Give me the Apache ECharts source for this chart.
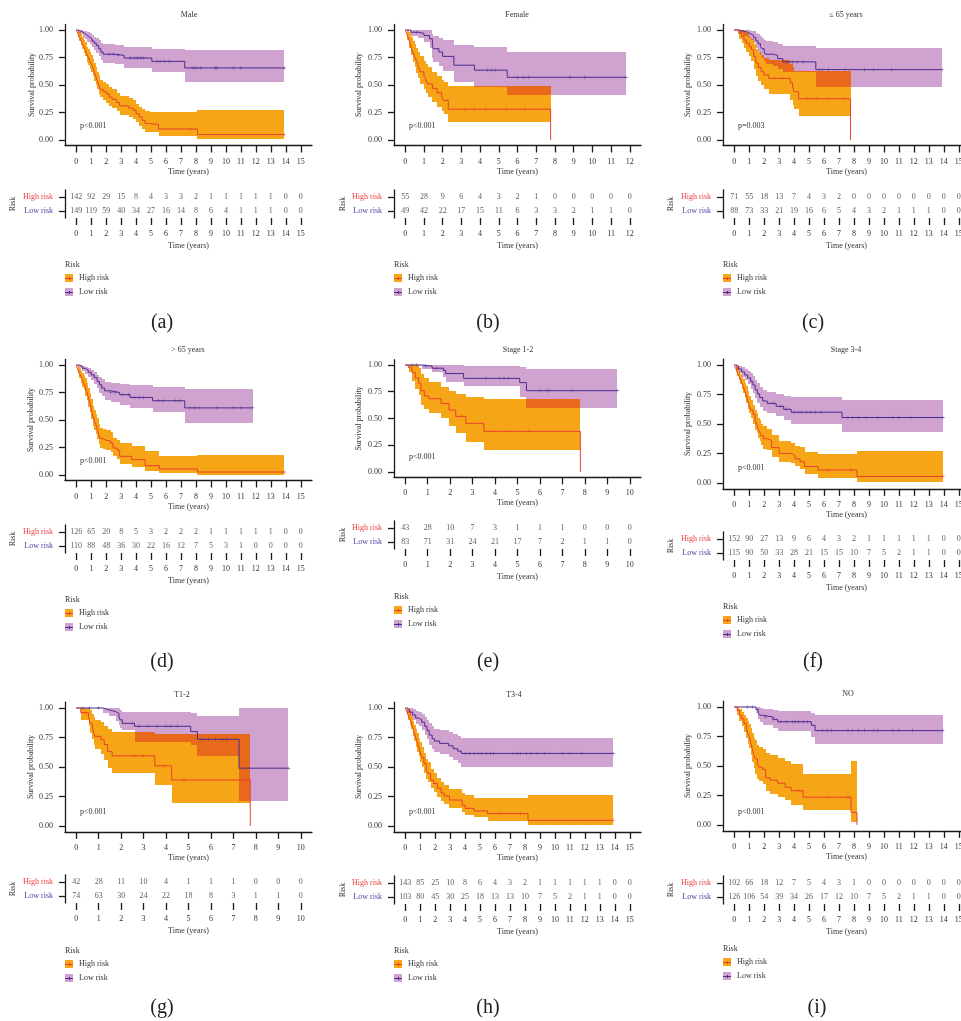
<!DOCTYPE html>
<html><head><meta charset="utf-8">
<script src="https://cdn.jsdelivr.net/npm/echarts@6.0.0/dist/echarts.min.js"></script>
<style>html,body{margin:0;padding:0;background:#fff}#c{width:961px;height:1021px}</style>
</head><body><div id="c"></div>
<script>
// ================= DATA =================
// tick labels
const ticks15 = [0,1,2,3,4,5,6,7,8,9,10,11,12,13,14,15];
const ticks12 = [0,1,2,3,4,5,6,7,8,9,10,11,12];
const ticks10 = [0,1,2,3,4,5,6,7,8,9,10];
const survTicks = [0, 0.25, 0.5, 0.75, 1];
const riskCats = ['Low risk', 'High risk'];
// KM steps: [time, survival, lower CI, upper CI]

// (a) Male
const aHigh = [[0,1,1,1],[0.1,0.97,0.94,1],[0.2,0.94,0.90,0.98],[0.3,0.91,0.86,0.96],[0.4,0.88,0.83,0.94],[0.5,0.85,0.79,0.91],[0.6,0.82,0.76,0.89],[0.7,0.78,0.71,0.85],[0.8,0.75,0.68,0.83],[0.9,0.72,0.65,0.80],[1.0,0.69,0.62,0.77],[1.1,0.66,0.58,0.74],[1.2,0.62,0.54,0.70],[1.3,0.58,0.50,0.66],[1.4,0.54,0.46,0.62],[1.5,0.50,0.42,0.59],[1.6,0.46,0.39,0.55],[1.8,0.44,0.36,0.53],[2.0,0.42,0.34,0.51],[2.2,0.39,0.31,0.48],[2.4,0.37,0.29,0.46],[2.7,0.34,0.26,0.43],[2.9,0.31,0.23,0.40],[3.5,0.29,0.21,0.38],[3.8,0.27,0.19,0.36],[4.0,0.24,0.16,0.33],[4.2,0.21,0.13,0.30],[4.4,0.18,0.10,0.28],[4.6,0.15,0.075,0.26],[4.9,0.14,0.07,0.255],[5.5,0.10,0.035,0.255],[8.1,0.05,0.005,0.275]];
const aHighEnd = 13.9;
const aHighCens = [7.6, 13.9];
const aLow = [[0,1,1,1],[0.15,0.99,0.975,1],[0.3,0.98,0.96,1],[0.45,0.965,0.935,0.995],[0.6,0.95,0.915,0.99],[0.75,0.935,0.895,0.98],[0.9,0.92,0.87,0.97],[1.05,0.90,0.845,0.955],[1.2,0.88,0.82,0.94],[1.35,0.86,0.79,0.925],[1.5,0.83,0.76,0.905],[1.65,0.80,0.73,0.885],[1.8,0.78,0.70,0.87],[2.6,0.77,0.69,0.865],[3.2,0.745,0.655,0.845],[5.05,0.715,0.62,0.83],[7.25,0.655,0.525,0.815]];
const aLowEnd = 13.9;
const aLowCens = [2.2,2.5,2.8,3.6,3.9,4.1,4.3,4.5,5.4,5.6,5.9,6.2,7.8,8.0,8.3,9.3,9.4,10.5,11.0,13.9];
const aRiskHigh = [142,92,29,15,8,4,3,3,2,1,1,1,1,1,0,0];
const aRiskLow = [149,119,59,40,34,27,16,14,8,6,4,1,1,1,0,0];

// (b) Female
const bHigh = [[0,1,1,1],[0.1,0.96,0.91,1],[0.2,0.91,0.84,0.98],[0.3,0.85,0.77,0.94],[0.4,0.80,0.71,0.90],[0.5,0.76,0.66,0.87],[0.6,0.72,0.61,0.84],[0.7,0.67,0.56,0.80],[0.8,0.62,0.51,0.76],[1.0,0.58,0.46,0.72],[1.1,0.55,0.43,0.69],[1.2,0.51,0.39,0.66],[1.45,0.47,0.35,0.62],[1.7,0.43,0.30,0.58],[1.95,0.39,0.26,0.55],[2.05,0.36,0.235,0.53],[2.3,0.28,0.16,0.49],[7.77,0,null,null]];
const bHighEnd = 7.77;
const bHighCens = [3.2,3.7,4.3,5.4,6.4];
const bLow = [[0,1,1,1],[0.3,0.98,0.95,1],[0.7,0.97,0.93,1],[1.0,0.95,0.89,1],[1.3,0.92,0.84,1],[1.45,0.86,0.75,0.96],[1.5,0.83,0.71,0.95],[1.8,0.80,0.67,0.93],[2.0,0.76,0.63,0.91],[2.6,0.68,0.53,0.86],[3.7,0.635,0.48,0.85],[5.45,0.57,0.405,0.80]];
const bLowEnd = 11.8;
const bLowCens = [0.6,4.4,4.6,4.8,6.0,6.3,6.6,8.8,9.6,11.8];
const bRiskHigh = [55,28,9,6,4,3,2,1,0,0,0,0,0];
const bRiskLow = [49,42,22,17,15,11,6,3,3,2,1,1,0];

// (c) <= 65 years
const cHigh = [[0,1,1,1],[0.3,0.97,0.92,1],[0.5,0.94,0.88,1],[0.65,0.91,0.84,0.99],[0.8,0.88,0.80,0.97],[1.0,0.85,0.76,0.94],[1.15,0.82,0.72,0.92],[1.3,0.76,0.65,0.87],[1.45,0.70,0.58,0.83],[1.6,0.66,0.54,0.80],[1.8,0.62,0.50,0.77],[2.0,0.59,0.46,0.75],[2.3,0.56,0.42,0.73],[3.75,0.52,0.36,0.69],[3.9,0.48,0.32,0.66],[4.0,0.44,0.285,0.63],[4.3,0.375,0.215,0.63],[7.77,0,null,null]];
const cHighEnd = 7.77;
const cHighCens = [2.7,3.2,4.9,5.5,6.3,7.3];
const cLow = [[0,1,1,1],[0.3,0.99,0.97,1],[0.6,0.98,0.95,1],[0.9,0.965,0.93,1],[1.1,0.95,0.905,0.995],[1.3,0.93,0.88,0.99],[1.45,0.90,0.84,0.975],[1.6,0.875,0.80,0.96],[1.75,0.85,0.77,0.945],[1.85,0.83,0.745,0.93],[2.0,0.80,0.715,0.91],[2.1,0.78,0.69,0.90],[2.6,0.77,0.675,0.89],[2.9,0.74,0.645,0.875],[3.25,0.71,0.615,0.855],[5.45,0.64,0.48,0.84]];
const cLowEnd = 13.9;
const cLowCens = [3.5,3.9,4.2,4.6,5.7,5.9,6.3,7.4,8.7,9.3,10.5,13.9];
const cRiskHigh = [71,55,18,13,7,4,3,2,0,0,0,0,0,0,0,0];
const cRiskLow = [88,73,33,21,19,16,6,5,4,3,2,1,1,1,0,0];

// (d) > 65 years
const dHigh = [[0,1,1,1],[0.1,0.96,0.93,1],[0.2,0.93,0.88,0.97],[0.3,0.90,0.84,0.95],[0.4,0.87,0.80,0.93],[0.5,0.84,0.77,0.91],[0.6,0.80,0.72,0.88],[0.7,0.76,0.68,0.84],[0.8,0.71,0.62,0.79],[0.9,0.66,0.57,0.75],[1.0,0.60,0.51,0.69],[1.1,0.54,0.45,0.63],[1.2,0.50,0.41,0.59],[1.3,0.46,0.37,0.555],[1.4,0.42,0.33,0.515],[1.5,0.37,0.285,0.46],[1.6,0.33,0.25,0.43],[1.8,0.315,0.235,0.415],[2.0,0.31,0.23,0.41],[2.3,0.29,0.21,0.39],[2.45,0.245,0.17,0.335],[2.75,0.225,0.15,0.315],[2.9,0.17,0.10,0.29],[3.7,0.14,0.075,0.26],[4.6,0.085,0.035,0.215],[5.55,0.055,0.015,0.175],[8.1,0.027,0.002,0.185]];
const dHighEnd = 13.9;
const dHighCens = [13.9];
const dLow = [[0,1,1,1],[0.2,0.99,0.97,1],[0.4,0.97,0.945,0.995],[0.6,0.955,0.92,0.985],[0.8,0.935,0.895,0.97],[1.0,0.91,0.86,0.955],[1.2,0.885,0.83,0.94],[1.4,0.85,0.79,0.91],[1.55,0.82,0.75,0.89],[1.7,0.79,0.72,0.87],[1.9,0.765,0.685,0.85],[2.3,0.75,0.665,0.84],[2.9,0.73,0.64,0.825],[3.6,0.705,0.61,0.815],[5.1,0.675,0.575,0.80],[7.25,0.61,0.47,0.78]];
const dLowEnd = 11.8;
const dLowCens = [2.3,2.6,3.1,3.5,3.9,4.2,4.5,5.5,5.8,6.6,6.9,7.6,7.9,8.2,9.4,10.5,11.0,11.8];
const dRiskHigh = [126,65,20,8,5,3,2,2,2,1,1,1,1,1,0,0];
const dRiskLow = [110,88,48,36,30,22,16,12,7,5,3,1,0,0,0,0];

// (e) Stage 1-2
const eHigh = [[0,1,1,1],[0.15,0.975,0.93,1],[0.3,0.93,0.85,1],[0.45,0.88,0.78,1],[0.6,0.83,0.72,0.97],[0.7,0.76,0.63,0.92],[0.85,0.71,0.585,0.88],[1.05,0.685,0.555,0.84],[1.6,0.64,0.50,0.79],[1.95,0.58,0.43,0.76],[2.25,0.52,0.36,0.73],[2.7,0.455,0.285,0.70],[3.5,0.38,0.205,0.68],[7.8,0,null,null]];
const eHighEnd = 7.8;
const eHighCens = [2.5,3.8,4.5,5.5];
const eLow = [[0,1,1,1],[0.75,0.99,0.965,1],[1.2,0.97,0.93,1],[1.7,0.95,0.89,1],[1.8,0.92,0.845,1],[2.6,0.875,0.80,0.99],[5.1,0.835,0.705,0.985],[5.4,0.76,0.595,0.96]];
const eLowEnd = 9.45;
const eLowCens = [0.3,0.5,0.9,1.4,3.6,4.2,4.4,4.6,6.0,6.3,6.4,7.4,9.45];
const eRiskHigh = [43,28,10,7,3,1,1,1,0,0,0];
const eRiskLow = [83,71,31,24,21,17,7,2,1,1,0];

// (f) Stage 3-4
const fHigh = [[0,1,1,1],[0.1,0.97,0.94,1],[0.2,0.94,0.91,0.98],[0.3,0.91,0.87,0.95],[0.4,0.88,0.84,0.92],[0.5,0.85,0.80,0.90],[0.6,0.82,0.76,0.88],[0.7,0.78,0.72,0.85],[0.8,0.745,0.68,0.82],[0.9,0.70,0.63,0.78],[1.0,0.66,0.59,0.74],[1.1,0.62,0.55,0.70],[1.25,0.58,0.50,0.665],[1.4,0.53,0.45,0.62],[1.5,0.50,0.42,0.59],[1.6,0.46,0.38,0.555],[1.7,0.435,0.355,0.53],[1.8,0.40,0.32,0.50],[1.95,0.375,0.29,0.48],[2.2,0.36,0.28,0.46],[2.5,0.30,0.22,0.405],[3.0,0.25,0.18,0.355],[3.8,0.235,0.17,0.34],[4.05,0.205,0.14,0.315],[4.4,0.18,0.12,0.305],[4.7,0.14,0.075,0.26],[5.6,0.11,0.045,0.245],[8.2,0.055,0.01,0.27]];
const fHighEnd = 13.95;
const fHighCens = [6.3,7.8,13.95];
const fLow = [[0,1,1,1],[0.15,0.985,0.96,1],[0.3,0.965,0.93,0.995],[0.5,0.94,0.90,0.985],[0.7,0.915,0.87,0.97],[0.9,0.89,0.84,0.95],[1.1,0.86,0.80,0.93],[1.25,0.83,0.765,0.91],[1.4,0.79,0.72,0.875],[1.55,0.755,0.68,0.845],[1.7,0.725,0.645,0.815],[1.9,0.695,0.61,0.79],[2.2,0.675,0.59,0.775],[2.8,0.65,0.565,0.755],[3.3,0.625,0.535,0.74],[3.8,0.60,0.50,0.725],[7.2,0.555,0.435,0.705]];
const fLowEnd = 13.95;
const fLowCens = [2.6,3.1,3.5,4.0,4.3,4.5,4.8,5.1,5.4,5.8,7.6,7.9,8.3,8.8,9.6,10.6,11.0,11.8,13.95];
const fRiskHigh = [152,90,27,13,9,6,4,3,2,1,1,1,1,1,0,0];
const fRiskLow = [115,90,50,33,28,21,15,15,10,7,5,2,1,1,0,0];

// (g) T1-2
const gHigh = [[0,1,1,1],[0.2,0.96,0.90,1],[0.55,0.92,0.85,1],[0.62,0.87,0.79,0.98],[0.72,0.83,0.74,0.95],[0.78,0.79,0.69,0.92],[0.82,0.76,0.65,0.90],[1.1,0.73,0.61,0.88],[1.25,0.69,0.56,0.85],[1.4,0.63,0.49,0.82],[1.6,0.595,0.445,0.80],[3.5,0.51,0.345,0.78],[4.25,0.39,0.195,0.78],[7.75,0,null,null]];
const gHighEnd = 7.75;
const gHighCens = [0.4,2.6,3.0,3.9,4.8];
const gLow = [[0,1,1,1],[1.2,0.985,0.955,1],[1.45,0.97,0.93,1],[1.75,0.955,0.89,1],[1.9,0.93,0.855,1],[1.95,0.90,0.83,0.985],[2.05,0.87,0.81,0.97],[2.6,0.845,0.715,0.965],[5.1,0.80,0.69,0.955],[5.4,0.735,0.59,0.935],[7.25,0.49,0.215,1.0]];
const gLowEnd = 9.45;
const gLowCens = [0.3,0.6,1.0,2.5,2.8,3.2,3.6,4.0,4.2,4.5,5.6,5.9,6.2,6.5,6.7,9.45];
const gRiskHigh = [42,28,11,10,4,1,1,1,0,0,0];
const gRiskLow = [74,63,30,24,22,18,8,3,1,1,0];

// (h) T3-4
const hHigh = [[0,1,1,1],[0.1,0.97,0.94,1],[0.2,0.94,0.90,0.98],[0.3,0.91,0.86,0.96],[0.4,0.88,0.82,0.93],[0.5,0.83,0.76,0.89],[0.6,0.79,0.72,0.86],[0.7,0.75,0.67,0.82],[0.8,0.71,0.63,0.79],[0.9,0.67,0.59,0.75],[1.0,0.62,0.54,0.71],[1.1,0.58,0.50,0.67],[1.25,0.53,0.45,0.62],[1.4,0.48,0.40,0.57],[1.5,0.445,0.37,0.54],[1.7,0.39,0.32,0.48],[1.9,0.36,0.29,0.45],[2.15,0.32,0.25,0.41],[2.4,0.28,0.215,0.37],[2.6,0.255,0.19,0.35],[2.95,0.22,0.155,0.31],[3.8,0.175,0.12,0.28],[4.0,0.15,0.095,0.26],[4.6,0.128,0.075,0.24],[5.5,0.105,0.043,0.235],[8.2,0.048,0.005,0.26]];
const hHighEnd = 13.9;
const hHighCens = [6.3,7.7,13.9];
const hLow = [[0,1,1,1],[0.15,0.985,0.96,1],[0.3,0.965,0.93,1],[0.5,0.94,0.895,0.99],[0.7,0.915,0.865,0.975],[0.9,0.90,0.845,0.965],[1.1,0.88,0.815,0.95],[1.3,0.845,0.775,0.925],[1.45,0.81,0.735,0.90],[1.6,0.77,0.69,0.87],[1.8,0.74,0.655,0.845],[1.95,0.72,0.63,0.825],[2.3,0.70,0.61,0.81],[2.9,0.68,0.585,0.80],[3.2,0.655,0.56,0.78],[3.5,0.635,0.535,0.765],[3.75,0.615,0.50,0.745]];
const hLowEnd = 13.9;
const hLowCens = [4.0,4.3,4.6,4.9,5.1,5.4,5.7,5.9,7.2,7.5,7.7,8.1,8.4,8.8,9.3,10.5,11.0,11.8,13.9];
const hRiskHigh = [143,85,25,10,8,6,4,3,2,1,1,1,1,1,0,0];
const hRiskLow = [103,80,45,30,25,18,13,13,10,7,5,2,1,1,0,0];

// (i) NO
const iHigh = [[0,1,1,1],[0.2,0.97,0.93,1],[0.35,0.93,0.88,0.98],[0.5,0.90,0.84,0.96],[0.65,0.86,0.79,0.935],[0.8,0.82,0.74,0.91],[0.9,0.78,0.69,0.88],[1.0,0.75,0.65,0.86],[1.1,0.70,0.59,0.82],[1.2,0.65,0.535,0.78],[1.3,0.60,0.48,0.74],[1.4,0.56,0.43,0.72],[1.55,0.52,0.39,0.68],[1.65,0.49,0.37,0.66],[1.9,0.47,0.35,0.645],[2.1,0.40,0.285,0.61],[2.4,0.38,0.265,0.59],[2.9,0.355,0.24,0.565],[3.4,0.32,0.215,0.54],[3.8,0.29,0.17,0.515],[4.6,0.236,0.125,0.43],[7.8,0.107,0.022,0.54],[8.2,0,null,null]];
const iHighEnd = 8.2;
const iHighCens = [4.3,6.3,7.6];
const iLow = [[0,1,1,1],[1.45,0.98,0.945,1],[1.6,0.95,0.90,1],[1.7,0.93,0.87,0.995],[1.9,0.915,0.85,0.985],[2.6,0.895,0.82,0.975],[2.9,0.875,0.795,0.965],[5.15,0.845,0.75,0.95],[5.4,0.80,0.685,0.935]];
const iLowEnd = 13.95;
const iLowCens = [0.9,1.2,2.1,2.6,3.1,3.5,3.9,4.1,4.3,4.6,4.9,5.9,6.2,6.5,7.6,7.9,8.3,8.7,9.3,9.6,10.6,11.0,11.9,13.95];
const iRiskHigh = [102,66,18,12,7,5,4,3,1,0,0,0,0,0,0,0];
const iRiskLow = [126,106,54,39,34,26,17,12,10,7,5,2,1,1,0,0];

// ================= PANELS =================
const panels = [
  {title:'Male', tag:'(a)', p:'p<0.001', ticks:ticks15, high:aHigh, highEnd:aHighEnd, highCens:aHighCens, low:aLow, lowEnd:aLowEnd, lowCens:aLowCens, riskHigh:aRiskHigh, riskLow:aRiskLow},
  {title:'Female', tag:'(b)', p:'p<0.001', ticks:ticks12, high:bHigh, highEnd:bHighEnd, highCens:bHighCens, low:bLow, lowEnd:bLowEnd, lowCens:bLowCens, riskHigh:bRiskHigh, riskLow:bRiskLow},
  {title:'\u2264 65 years', tag:'(c)', p:'p=0.003', ticks:ticks15, high:cHigh, highEnd:cHighEnd, highCens:cHighCens, low:cLow, lowEnd:cLowEnd, lowCens:cLowCens, riskHigh:cRiskHigh, riskLow:cRiskLow},
  {title:'> 65 years', tag:'(d)', p:'p<0.001', ticks:ticks15, high:dHigh, highEnd:dHighEnd, highCens:dHighCens, low:dLow, lowEnd:dLowEnd, lowCens:dLowCens, riskHigh:dRiskHigh, riskLow:dRiskLow},
  {title:'Stage 1-2', tag:'(e)', p:'p<0.001', ticks:ticks10, high:eHigh, highEnd:eHighEnd, highCens:eHighCens, low:eLow, lowEnd:eLowEnd, lowCens:eLowCens, riskHigh:eRiskHigh, riskLow:eRiskLow},
  {title:'Stage 3-4', tag:'(f)', p:'p<0.001', ticks:ticks15, high:fHigh, highEnd:fHighEnd, highCens:fHighCens, low:fLow, lowEnd:fLowEnd, lowCens:fLowCens, riskHigh:fRiskHigh, riskLow:fRiskLow},
  {title:'T1-2', tag:'(g)', p:'p<0.001', ticks:ticks10, high:gHigh, highEnd:gHighEnd, highCens:gHighCens, low:gLow, lowEnd:gLowEnd, lowCens:gLowCens, riskHigh:gRiskHigh, riskLow:gRiskLow},
  {title:'T3-4', tag:'(h)', p:'p<0.001', ticks:ticks15, high:hHigh, highEnd:hHighEnd, highCens:hHighCens, low:hLow, lowEnd:hLowEnd, lowCens:hLowCens, riskHigh:hRiskHigh, riskLow:hRiskLow},
  {title:'NO', tag:'(i)', p:'p<0.001', ticks:ticks15, high:iHigh, highEnd:iHighEnd, highCens:iHighCens, low:iLow, lowEnd:iLowEnd, lowCens:iLowCens, riskHigh:iRiskHigh, riskLow:iRiskLow}
];

// ================= LAYOUT (pixels) =================
const W = 247;
const layouts = [
  {left:65,  y1:30,  y0:140, riskTop:190, legY:265, tagX:162, tagY:323,  titleX:189, titleY:15,  pX:80,  pY:126, ynameX:32,  riskNameX:13},
  {left:394, y1:30,  y0:140, riskTop:190, legY:265, tagX:488, tagY:323,  titleX:517, titleY:15,  pX:409, pY:126, ynameX:359, riskNameX:343},
  {left:723, y1:30,  y0:140, riskTop:190, legY:265, tagX:813, tagY:323,  titleX:846, titleY:15,  pX:738, pY:126, ynameX:688, riskNameX:671},
  {left:65,  y1:365, y0:475, riskTop:525, legY:600, tagX:162, tagY:662,  titleX:188, titleY:350, pX:80,  pY:461, ynameX:31,  riskNameX:13},
  {left:394, y1:365, y0:472, riskTop:521, legY:597, tagX:488, tagY:662,  titleX:518, titleY:350, pX:409, pY:457, ynameX:359, riskNameX:343},
  {left:723, y1:365, y0:483, riskTop:532, legY:607, tagX:813, tagY:662,  titleX:846, titleY:350, pX:738, pY:468, ynameX:688, riskNameX:671},
  {left:65,  y1:708, y0:826, riskTop:875, legY:951, tagX:162, tagY:1008, titleX:182, titleY:695, pX:80,  pY:812, ynameX:31,  riskNameX:13},
  {left:394, y1:708, y0:826, riskTop:876, legY:951, tagX:488, tagY:1008, titleX:514, titleY:695, pX:409, pY:812, ynameX:359, riskNameX:343},
  {left:723, y1:707, y0:825, riskTop:876, legY:949, tagX:817, tagY:1008, titleX:848, titleY:694, pX:738, pY:812, ynameX:688, riskNameX:671}
];

const FONT = '"Liberation Serif", "DejaVu Serif", serif';
const COL = {highBand:'#F6A516', lowBand:'#CFA2CF', overlap:'#E8691B', highLine:'#E8412C', lowLine:'#4B2C8F', text:'#333333', axis:'#1a1a1a'};
const PLUS = 'path://M4.5,0h1v4.5h4.5v1h-4.5v4.5h-1v-4.5h-4.5v-1h4.5z';

// ================= HELPERS =================
function intervals(steps, end) {
  const out = [];
  for (let i = 0; i < steps.length; i++) {
    if (steps[i][2] == null) continue;
    const t0 = steps[i][0];
    const t1 = (i + 1 < steps.length) ? steps[i + 1][0] : end;
    if (t1 > t0) out.push([t0, t1, steps[i][2], steps[i][3]]);
  }
  return out;
}
function bandPolygon(steps, end) {
  const iv = intervals(steps, end);
  const up = [], lo = [];
  iv.forEach(d => { up.push([d[0], d[3]], [d[1], d[3]]); });
  for (let i = iv.length - 1; i >= 0; i--) { const d = iv[i]; lo.push([d[1], d[2]], [d[0], d[2]]); }
  return up.concat(lo);
}
function overlapRects(a, aEnd, b, bEnd) {
  const ia = intervals(a, aEnd), ib = intervals(b, bEnd), res = [];
  ia.forEach(x => ib.forEach(y => {
    const t0 = Math.max(x[0], y[0]), t1 = Math.min(x[1], y[1]);
    const lo = Math.max(x[2], y[2]), hi = Math.min(x[3], y[3]);
    if (t1 > t0 && hi > lo) res.push([t0, t1, lo, hi]);
  }));
  return res;
}
function survAt(steps, t) {
  let s = steps[0][1];
  steps.forEach(d => { if (d[0] <= t) s = d[1]; });
  return s;
}
function linePoints(steps, end) {
  const pts = steps.map(d => [d[0], d[1]]);
  const last = steps[steps.length - 1];
  if (end > last[0]) pts.push([end, last[1]]);
  return pts;
}
const R = Math.round;

// ================= OPTION =================
const grid = [], xAxis = [], yAxis = [], series = [], graphic = [];
const txt = (size) => ({fontSize: size, fontFamily: FONT, color: COL.text});

panels.forEach((P, k) => {
  const L = layouts[k];
  const tmax = P.ticks[P.ticks.length - 1];
  const xmin = -0.05 * tmax, xmax = 1.05 * tmax;
  const unit = L.y0 - L.y1;
  const gKM = 2 * k, gR = 2 * k + 1;

  grid.push({left: L.left, top: L.y1 - 0.05 * unit, width: W, height: 1.1 * unit, containLabel: false, outerBoundsMode: 'none'});
  grid.push({left: L.left, top: L.riskTop, width: W, height: 28, containLabel: false, outerBoundsMode: 'none'});

  const axisLine = {onZero: false, lineStyle: {color: COL.axis, width: 1.3}};
  [gKM, gR].forEach((g, j) => {
    xAxis.push({
      gridIndex: g, type: 'value', min: xmin, max: xmax,
      axisLine: axisLine,
      axisTick: {show: true, customValues: P.ticks, length: 7, lineStyle: {color: COL.axis, width: 1.3}},
      axisLabel: {customValues: P.ticks, margin: 12, ...txt(8)},
      splitLine: {show: false},
      name: 'Time (years)', nameLocation: 'middle', nameGap: j === 0 ? 22 : 24,
      nameTextStyle: txt(8)
    });
  });
  yAxis.push({
    gridIndex: gKM, type: 'value', min: -0.05, max: 1.05,
    axisLine: axisLine,
    axisTick: {show: true, customValues: survTicks, length: 6, lineStyle: {color: COL.axis, width: 1.3}},
    axisLabel: {customValues: survTicks, margin: 12, formatter: v => v.toFixed(2), ...txt(8)},
    splitLine: {show: false}
  });
  yAxis.push({
    gridIndex: gR, type: 'category', data: riskCats,
    axisLine: axisLine,
    axisTick: {show: true, alignWithLabel: true, length: 6, lineStyle: {color: COL.axis, width: 1.3}},
    axisLabel: {margin: 12, fontSize: 8, fontFamily: FONT, color: (v) => v === 'High risk' ? '#EE3B3B' : '#4B3FA0'},
    splitLine: {show: false}
  });

  // bands
  const band = (steps, end, color, z) => {
    const poly = bandPolygon(steps, end);
    return {
      type: 'custom', xAxisIndex: gKM, yAxisIndex: gKM, silent: true, z: z, animation: false,
      data: intervals(steps, end).map(d => [d[0], d[2], d[3]]),
      encode: {x: 0, y: [1, 2]},
      renderItem: (params, api) => {
        if (params.dataIndex !== 0) return null;
        return {type: 'polygon', shape: {points: poly.map(p => { const c = api.coord(p); return [R(c[0]), R(c[1])]; })}, style: {fill: color}};
      }
    };
  };
  series.push(band(P.low, P.lowEnd, COL.lowBand, 1));
  series.push(band(P.high, P.highEnd, COL.highBand, 2));
  series.push({
    type: 'custom', xAxisIndex: gKM, yAxisIndex: gKM, silent: true, z: 3, animation: false,
    data: overlapRects(P.low, P.lowEnd, P.high, P.highEnd),
    encode: {x: [0, 1], y: [2, 3]},
    renderItem: (params, api) => {
      const a = api.coord([api.value(0), api.value(3)]);
      const b = api.coord([api.value(1), api.value(2)]);
      const x0 = R(a[0]), x1 = R(b[0]), y0 = R(a[1]), y1 = R(b[1]);
      return {type: 'rect', shape: {x: x0, y: y0, width: x1 - x0, height: y1 - y0}, style: {fill: COL.overlap}};
    }
  });
  // survival lines
  [[P.low, P.lowEnd, COL.lowLine], [P.high, P.highEnd, COL.highLine]].forEach(([st, end, c]) => {
    series.push({type: 'line', xAxisIndex: gKM, yAxisIndex: gKM, step: 'end', symbol: 'none', silent: true, z: 4,
      animation: false, data: linePoints(st, end), lineStyle: {color: c, width: 1}});
  });
  // censor marks
  [[P.low, P.lowCens, COL.lowLine], [P.high, P.highCens, COL.highLine]].forEach(([st, cens, c]) => {
    series.push({type: 'scatter', xAxisIndex: gKM, yAxisIndex: gKM, symbol: PLUS, symbolSize: 4, silent: true, z: 5,
      animation: false, itemStyle: {color: c}, data: cens.map(t => [t, survAt(st, t)])});
  });
  // risk table numbers
  [['High risk', P.riskHigh], ['Low risk', P.riskLow]].forEach(([cat, vals]) => {
    series.push({type: 'scatter', xAxisIndex: gR, yAxisIndex: gR, symbolSize: 0, silent: true, animation: false,
      itemStyle: {color: 'rgba(0,0,0,0)'},
      label: {show: true, position: 'inside', formatter: p => String(p.value[2]), ...txt(8)},
      data: vals.map((v, i) => [P.ticks[i], cat, v])});
  });

  // texts
  const T = (x, y, text, size, align, extra) => Object.assign({type: 'text', x: x, y: y, silent: true,
    style: {text: text, fontSize: size, fontFamily: FONT, fill: COL.text, align: align, verticalAlign: 'middle'}}, extra || {});
  graphic.push(T(L.titleX, L.titleY, P.title, 8, 'center'));
  graphic.push(T(L.pX, L.pY, P.p, 8, 'left'));
  graphic.push(T(L.ynameX, L.y1 + unit / 2, 'Survival probability', 8, 'center', {rotation: Math.PI / 2}));
  graphic.push(T(L.riskNameX, L.riskTop + 14, 'Risk', 8, 'center', {rotation: Math.PI / 2}));
  graphic.push(T(L.tagX, L.tagY, P.tag, 20, 'center', {style: {text: P.tag, fontSize: 20, fontFamily: FONT, fill: '#222', align: 'center', verticalAlign: 'middle'}}));
  // legend
  graphic.push(T(L.left, L.legY, 'Risk', 8, 'left'));
  [[13, COL.highBand, COL.highLine, 'High risk'], [27, COL.lowBand, COL.lowLine, 'Low risk']].forEach(([dy, fill, line, label]) => {
    const cy = L.legY + dy;
    graphic.push({type: 'rect', silent: true, shape: {x: L.left, y: cy - 4, width: 8, height: 8}, style: {fill: fill}});
    graphic.push({type: 'line', silent: true, shape: {x1: L.left, y1: cy + 0.5, x2: L.left + 8, y2: cy + 0.5}, style: {stroke: line, lineWidth: 1}});
    graphic.push({type: 'line', silent: true, shape: {x1: L.left + 4.5, y1: cy - 1, x2: L.left + 4.5, y2: cy + 2}, style: {stroke: line, lineWidth: 1}});
    graphic.push(T(L.left + 14, cy, label, 8, 'left'));
  });
});

const chart = echarts.init(document.getElementById('c'), null, {renderer: 'canvas', width: 961, height: 1021});
chart.setOption({
  animation: false,
  backgroundColor: '#ffffff',
  grid: grid, xAxis: xAxis, yAxis: yAxis, series: series, graphic: graphic
});
</script>
</body></html>
